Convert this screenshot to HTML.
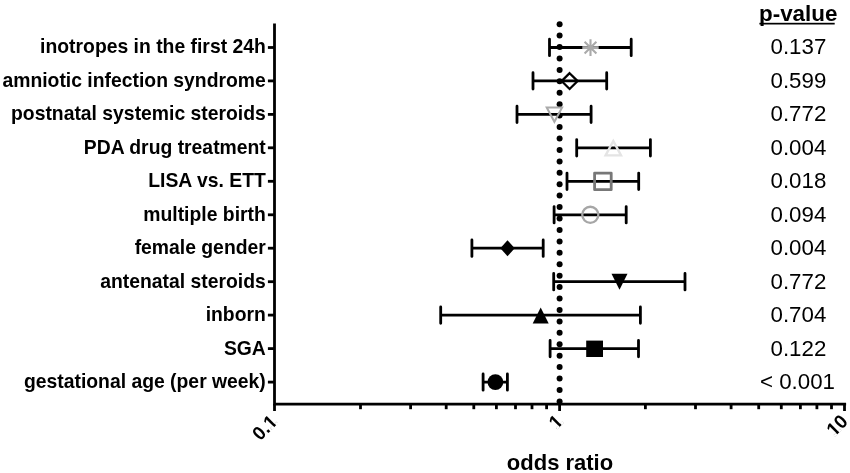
<!DOCTYPE html>
<html><head><meta charset="utf-8"><title>odds ratio forest plot</title>
<style>html,body{margin:0;padding:0;background:#fff}svg{display:block}text{font-family:"Liberation Sans",Arial,sans-serif}</style></head><body>
<svg width="850" height="473" viewBox="0 0 850 473">
<rect width="850" height="473" fill="#fff"/>
<g stroke="#000" stroke-width="2.8" fill="none" stroke-linecap="butt">
<path d="M274.5 23.6V404.2H846.1"/>
<path d="M267.9 47.5H274"/>
<path d="M267.9 80.9H274"/>
<path d="M267.9 114.4H274"/>
<path d="M267.9 147.8H274"/>
<path d="M267.9 181.3H274"/>
<path d="M267.9 214.8H274"/>
<path d="M267.9 248.2H274"/>
<path d="M267.9 281.7H274"/>
<path d="M267.9 315.1H274"/>
<path d="M267.9 348.6H274"/>
<path d="M267.9 382.1H274"/>
<path d="M274.5 404V411"/>
<path d="M360.5 404V409.2"/>
<path d="M410.6 404V409.2"/>
<path d="M446.2 404V409.2"/>
<path d="M473.8 404V409.2"/>
<path d="M496.4 404V409.2"/>
<path d="M515.5 404V409.2"/>
<path d="M532.0 404V409.2"/>
<path d="M546.6 404V409.2"/>
<path d="M559.6 404V411"/>
<path d="M645.4 404V409.2"/>
<path d="M695.5 404V409.2"/>
<path d="M731.1 404V409.2"/>
<path d="M758.7 404V409.2"/>
<path d="M781.3 404V409.2"/>
<path d="M800.4 404V409.2"/>
<path d="M816.9 404V409.2"/>
<path d="M831.5 404V409.2"/>
<path d="M844.5 404V411"/>
</g>
<g stroke="#000" stroke-width="2.8" fill="none" stroke-linecap="round">
<path d="M549.5 47.5H631.2M549.5 39.2V55.7M631.2 39.2V55.7"/>
<path d="M533 80.9H606.7M533 72.7V89.1M606.7 72.7V89.1"/>
<path d="M517 114.4H591.1M517 106.2V122.6M591.1 106.2V122.6"/>
<path d="M576.7 147.8H650.4M576.7 139.6V156.0M650.4 139.6V156.0"/>
<path d="M567 181.3H638.7M567 173.1V189.5M638.7 173.1V189.5"/>
<path d="M554.1 214.8H626.2M554.1 206.6V222.9M626.2 206.6V222.9"/>
<path d="M471.9 248.2H543.2M471.9 240.0V256.4M543.2 240.0V256.4"/>
<path d="M553.7 281.7H685M553.7 273.5V289.9M685 273.5V289.9"/>
<path d="M440.7 315.1H640.4M440.7 306.9V323.3M640.4 306.9V323.3"/>
<path d="M550.1 348.6H638.5M550.1 340.4V356.8M638.5 340.4V356.8"/>
<path d="M483.1 382.1H507.4M483.1 373.9V390.2M507.4 373.9V390.2"/>
</g>
<g fill="#000">
<circle cx="559.6" cy="24.2" r="3.0"/>
<circle cx="559.6" cy="35.6" r="3.0"/>
<circle cx="559.6" cy="47.1" r="3.0"/>
<circle cx="559.6" cy="58.5" r="3.0"/>
<circle cx="559.6" cy="69.9" r="3.0"/>
<circle cx="559.6" cy="81.3" r="3.0"/>
<circle cx="559.6" cy="92.8" r="3.0"/>
<circle cx="559.6" cy="104.2" r="3.0"/>
<circle cx="559.6" cy="115.6" r="3.0"/>
<circle cx="559.6" cy="127.1" r="3.0"/>
<circle cx="559.6" cy="138.5" r="3.0"/>
<circle cx="559.6" cy="149.9" r="3.0"/>
<circle cx="559.6" cy="161.4" r="3.0"/>
<circle cx="559.6" cy="172.8" r="3.0"/>
<circle cx="559.6" cy="184.2" r="3.0"/>
<circle cx="559.6" cy="195.6" r="3.0"/>
<circle cx="559.6" cy="207.1" r="3.0"/>
<circle cx="559.6" cy="218.5" r="3.0"/>
<circle cx="559.6" cy="229.9" r="3.0"/>
<circle cx="559.6" cy="241.4" r="3.0"/>
<circle cx="559.6" cy="252.8" r="3.0"/>
<circle cx="559.6" cy="264.2" r="3.0"/>
<circle cx="559.6" cy="275.7" r="3.0"/>
<circle cx="559.6" cy="287.1" r="3.0"/>
<circle cx="559.6" cy="298.5" r="3.0"/>
<circle cx="559.6" cy="309.9" r="3.0"/>
<circle cx="559.6" cy="321.4" r="3.0"/>
<circle cx="559.6" cy="332.8" r="3.0"/>
<circle cx="559.6" cy="344.2" r="3.0"/>
<circle cx="559.6" cy="355.7" r="3.0"/>
<circle cx="559.6" cy="367.1" r="3.0"/>
<circle cx="559.6" cy="378.5" r="3.0"/>
<circle cx="559.6" cy="390.0" r="3.0"/>
<circle cx="559.6" cy="401.4" r="3.0"/>
</g>
<path d="M582.3 47.6H598.7" stroke="#aaa" stroke-width="2.9" fill="none"/>
<path d="M584.6 41.7L596.4 53.4M590.5 39.2L590.5 55.9M596.4 41.7L584.6 53.4" stroke="#aaa" stroke-width="2.1" fill="none"/>
<path d="M569.5999999999999 73.2L577.5999999999999 81.1L569.5999999999999 89.0L561.5999999999999 81.1Z" stroke="#000" stroke-width="2.3" fill="none"/>
<path d="M546.7 107.6H562.1L554.4 121.8Z" stroke="#aaa" stroke-width="2" fill="none"/>
<path d="M605.6 155.4H621.0L613.3 141.0Z" stroke="#e4e4e4" stroke-width="2.4" fill="none"/>
<rect x="594.6" y="173.1" width="16.6" height="16.6" stroke="#777" stroke-width="2.8" stroke-linejoin="round" fill="none"/>
<circle cx="590.3" cy="214.8" r="8.05" stroke="#a6a6a6" stroke-width="2.3" fill="none"/>
<path d="M507.5 240.2L514.7 248.2L507.5 256.2L500.3 248.2Z" fill="#000"/>
<path d="M611.5 273.7H627.5L619.5 289.7Z" fill="#000"/>
<path d="M532.7 323.4H548.7L540.7 307.5Z" fill="#000"/>
<rect x="586.2" y="340.6" width="16.8" height="16.4" fill="#000"/>
<circle cx="495.4" cy="382.1" r="7.9" fill="#000"/>
<g font-weight="bold" font-size="19.35" text-anchor="end" fill="#000">
<text x="265.8" y="53.4">inotropes in the first 24h</text>
<text x="265.8" y="86.8">amniotic infection syndrome</text>
<text x="265.8" y="120.3">postnatal systemic steroids</text>
<text x="265.8" y="153.7">PDA drug treatment</text>
<text x="265.8" y="187.2">LISA vs. ETT</text>
<text x="265.8" y="220.7">multiple birth</text>
<text x="265.8" y="254.1">female gender</text>
<text x="265.8" y="287.6">antenatal steroids</text>
<text x="265.8" y="321.0">inborn</text>
<text x="265.8" y="354.5">SGA</text>
<text x="265.8" y="387.9">gestational age (per week)</text>
</g>
<text x="798.2" y="20.7" font-weight="bold" font-size="22.4" text-anchor="middle" fill="#000">p-value</text>
<rect x="759.4" y="22.8" width="75.3" height="1.7" fill="#000"/>
<g font-size="22.3" text-anchor="middle" fill="#000">
<text x="798.4" y="54.1">0.137</text>
<text x="798.4" y="87.6">0.599</text>
<text x="798.4" y="121.1">0.772</text>
<text x="798.4" y="154.6">0.004</text>
<text x="798.4" y="188.1">0.018</text>
<text x="798.4" y="221.6">0.094</text>
<text x="798.4" y="255.1">0.004</text>
<text x="798.4" y="288.6">0.772</text>
<text x="798.4" y="322.1">0.704</text>
<text x="798.4" y="355.6">0.122</text>
<text x="797.5" y="389.1">&lt; 0.001</text>
</g>
<defs><clipPath id="c1"><path clip-rule="evenodd" d="M-60 -40H20V20H-60ZM-9.61 -2.13H-6.19V0.4H-9.61ZM-3.47 -2.13H-0.30V0.4H-3.47Z"/></clipPath><clipPath id="c10"><path clip-rule="evenodd" d="M-60 -40H20V20H-60ZM-20.18 -2.13H-16.75V0.4H-20.18ZM-14.03 -2.13H-10.87V0.4H-14.03Z"/></clipPath></defs>
<g font-weight="bold" font-size="19" text-anchor="end" fill="#000">
<text transform="translate(278.6 422.7) rotate(-45)" clip-path="url(#c1)">0.1</text>
<text transform="translate(564.0 422.4) rotate(-45)" clip-path="url(#c1)">1</text>
<text transform="translate(849.1 422.4) rotate(-45)" clip-path="url(#c10)">10</text>
</g>
<text x="560" y="469.5" font-weight="bold" font-size="22" text-anchor="middle" fill="#000">odds ratio</text>
</svg></body></html>
